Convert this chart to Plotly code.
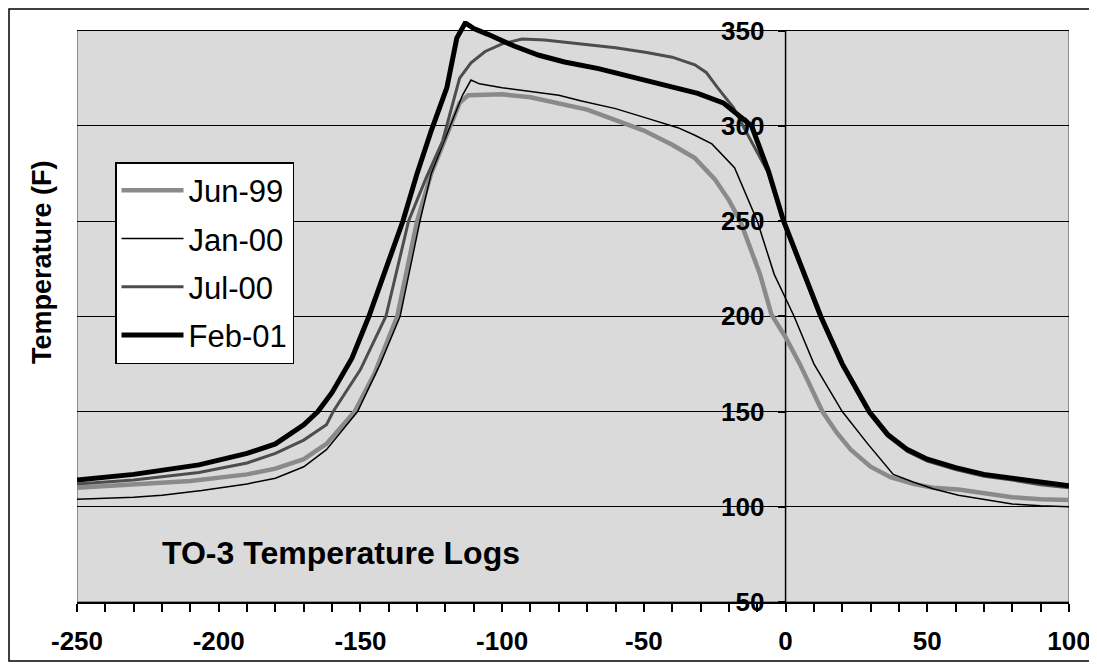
import plotly.graph_objects as go

# ---- data ----
jun99_x = [-250, -230, -210, -190, -180, -170, -162, -152, -145, -137, -130, -125, -121, -118, -115, -112,
           -100, -90, -80, -70, -60, -50, -40, -32, -25, -20, -16, -12, -9, -5, 0, 5, 9, 13, 18, 23, 30,
           37, 45, 52, 61, 70, 80, 90, 100]
jun99_y = [110, 111.5, 113.5, 117, 120, 125, 133, 150, 170, 200, 250, 275, 290, 302, 312, 316,
           316.5, 315, 312, 308.5, 303, 297.5, 290, 283, 272, 261, 250, 233, 222, 201, 189, 175, 162, 150, 139, 130, 121,
           115.5, 112, 110, 109, 107, 105, 104, 103.5]

jan00_x = [-250, -230, -220, -206, -190, -180, -170, -162, -151, -143, -136, -129, -125, -121, -118, -114, -111,
           -108, -100, -90, -80, -72, -60, -49, -38, -32, -26, -18, -13, -10, -4, 3, 10, 20, 29, 38, 45, 52,
           61, 70, 80, 90, 100]
jan00_y = [104, 105, 106, 108.5, 112, 115, 121, 130, 150, 175, 200, 250, 275, 290, 302, 316, 324,
           322, 320, 318, 316, 313, 309, 304, 299, 295, 290.5, 278, 261, 250, 222, 200, 175, 150, 133, 117, 113, 109.5,
           106, 104, 101.5, 100.5, 100]

jul00_x = [-250, -230, -207, -190, -180, -170, -162, -159.6, -150, -141, -133, -127, -121, -118, -115, -111, -106,
           -100, -93, -85, -72, -60, -49, -40, -32, -28, -24, -18.4, -14.7, -6, -0.7, 3.5, 7, 12.4, 20, 29.5,
           36, 43, 50, 60, 70, 80, 90, 100]
jul00_y = [112, 114, 118, 123, 128, 135, 143, 150, 172, 200, 250, 272, 292, 308, 325, 333, 339,
           343, 345.5, 345, 343, 341, 338.5, 336, 332, 328, 320, 309.6, 299, 275, 249, 233, 219, 199, 174, 149,
           137, 129, 124, 119.5, 116, 114, 111.5, 110]

feb01_x = [-250, -230, -207, -190, -180, -170, -165, -160, -153, -147, -141, -135, -130, -125, -119.5, -116, -113,
           -110, -105, -96, -87, -78, -66, -55, -43, -31, -22, -17, -12, -6, -0.7, 3.5, 7, 12.4, 20, 29.5,
           36, 43, 50, 60, 70, 80, 90, 100]
feb01_y = [114, 117, 122, 128, 133, 143, 150, 160, 178, 200, 225, 250, 275, 297.5, 320, 346, 354,
           351, 348, 342, 337, 333.5, 330, 326, 322, 317, 312, 306, 300, 276, 250, 234, 220, 200, 175, 150,
           138, 130, 125, 120.5, 117, 115, 112.5, 111]

series_names = ["Jun-99", "Jan-00", "Jul-00", "Feb-01"]
x_ticks = [-250, -200, -150, -100, -50, 0, 50, 100]
y_ticks = [50, 100, 150, 200, 250, 300, 350]
x_min, x_max = -250, 100
y_min, y_max = 50, 350

# ---- styles ----
styles = {
    "Jun-99": dict(color="#8a8a8a", width=4.5),
    "Jan-00": dict(color="#000000", width=1.5),
    "Jul-00": dict(color="#4d4d4d", width=3),
    "Feb-01": dict(color="#000000", width=5),
}
data = {
    "Jun-99": (jun99_x, jun99_y),
    "Jan-00": (jan00_x, jan00_y),
    "Jul-00": (jul00_x, jul00_y),
    "Feb-01": (feb01_x, feb01_y),
}

FONT = "Liberation Sans, Arial, sans-serif"

fig = go.Figure()
for name in series_names:
    xs, ys = data[name]
    fig.add_trace(go.Scatter(x=xs, y=ys, mode="lines", name=name,
                             line=dict(color=styles[name]["color"], width=styles[name]["width"]),
                             legendgroup=name))

# the page body adds an 8px offset; lay out in screen pixels minus that offset
OFF = 8
W, H = 1097 - OFF, 664 - OFF
# y range extends a little above 350 so the Feb-01 spike is not clipped
Y_TOP = 355
plot_l, plot_r, plot_t, plot_b = 77, 1069, 21, 602          # screen px of the subplot area
ml, mr, mt, mb = plot_l - OFF, (W + OFF) - plot_r, plot_t - OFF, (H + OFF) - plot_b
pw, ph = plot_r - plot_l, plot_b - plot_t

def px2paper_x(px):
    return (px - plot_l) / pw

def py2paper_y(py):
    return 1 - (py - plot_t) / ph

fig.update_layout(
    width=W, height=H,
    margin=dict(l=ml, r=mr, t=mt, b=mb, pad=0, autoexpand=False),
    paper_bgcolor="white",
    plot_bgcolor="white",
    font=dict(family=FONT, color="black"),
    showlegend=True,
    legend=dict(
        x=px2paper_x(115), y=py2paper_y(162), xanchor="left", yanchor="top",
        bgcolor="white", bordercolor="black", borderwidth=1.5,
        font=dict(family=FONT, size=31, color="black"),
        traceorder="grouped", tracegroupgap=5, itemwidth=62,
    ),
    xaxis=dict(
        range=[x_min, x_max], tickvals=x_ticks, ticktext=[str(v) for v in x_ticks],
        ticks="outside", ticklen=8, tickwidth=1.5, tickcolor="black",
        showline=True, linecolor="black", linewidth=1.5,
        showgrid=False, zeroline=False, automargin=False,
        tickfont=dict(family=FONT, size=26, color="black", weight="bold"),
        ticklabelstandoff=7,
        minor=dict(dtick=10, tick0=0, ticks="outside", ticklen=8, tickwidth=1.5,
                   tickcolor="black", showgrid=False),
    ),
    yaxis=dict(
        range=[y_min, Y_TOP], tickvals=y_ticks, ticktext=[str(v) for v in y_ticks],
        anchor="free", position=(0 - x_min) / (x_max - x_min),
        ticks="outside", ticklen=8, tickwidth=1.5, tickcolor="black",
        showline=False,
        showgrid=True, gridcolor="black", gridwidth=1,
        zeroline=False, automargin=False,
        tickfont=dict(family=FONT, size=26, color="black", weight="bold"),
        ticklabelstandoff=8,
    ),
    shapes=[
        # stippled-gray plot background, only up to 350
        dict(type="rect", xref="x", yref="y", x0=x_min, x1=x_max, y0=y_min, y1=y_max,
             fillcolor="#dadada", line=dict(color="#444444", width=1), layer="below"),
        # vertical axis line at x = 0
        dict(type="line", xref="x", yref="y", x0=0, x1=0, y0=y_min, y1=y_max,
             line=dict(color="black", width=1.5), layer="below"),
        # outer chart frame
        dict(type="rect", xref="paper", yref="paper",
             x0=px2paper_x(OFF + 1), x1=px2paper_x(1093), y0=py2paper_y(661), y1=py2paper_y(OFF + 1),
             line=dict(color="black", width=1.5)),
    ],
    annotations=[
        dict(text="<b>Temperature (F)</b>", xref="paper", yref="paper",
             x=px2paper_x(42), y=py2paper_y(262), textangle=-90, showarrow=False,
             font=dict(family=FONT, size=27, color="black"), xanchor="center", yanchor="middle"),
        dict(text="<b>TO-3 Temperature Logs</b>", xref="paper", yref="paper",
             x=px2paper_x(341), y=py2paper_y(553), showarrow=False,
             font=dict(family=FONT, size=32, color="black"), xanchor="center", yanchor="middle"),
    ],
)

fig.write_html("out.html")
